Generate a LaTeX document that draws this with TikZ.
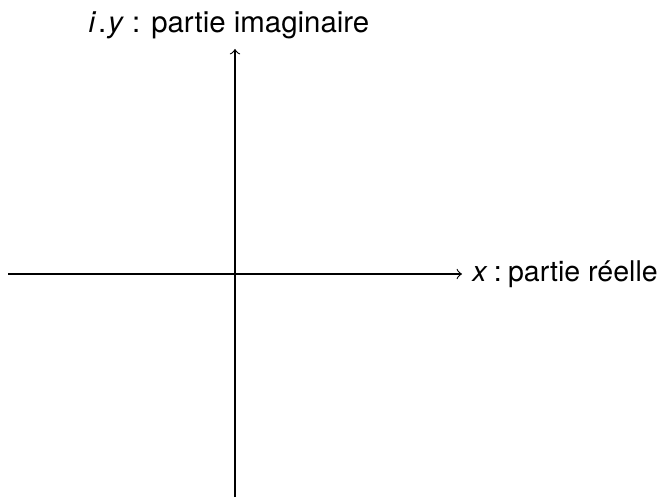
\documentclass[tikz,border=0pt]{standalone}
\usepackage{fontspec}
\setmainfont{TeX Gyre Heros}
\begin{document}
\begin{tikzpicture}[x=0.34pt,y=-0.34pt,
  axis/.style={->,line width=0.4pt},
  lbl/.style={font=\fontsize{10}{12}\selectfont}]
\useasboundingbox (0,0) rectangle (667,501);
\coordinate (xs) at (8,274);
\coordinate (xe) at (462,274);
\coordinate (ys) at (235,497);
\coordinate (ye) at (235,49);
\draw[axis] (xs) -- (xe) node[lbl,right,font=\fontsize{9.7}{12}\selectfont] (xl) {\textit{x}\hspace{0.22em}:\hspace{0.22em}partie réelle};
\draw[axis] (ys) -- (ye) node[lbl,above,xshift=-6*0.34pt] (yl) {\textit{i}\kern0.6pt.\kern0.6pt\textit{y} : partie imaginaire};
\end{tikzpicture}
\end{document}
